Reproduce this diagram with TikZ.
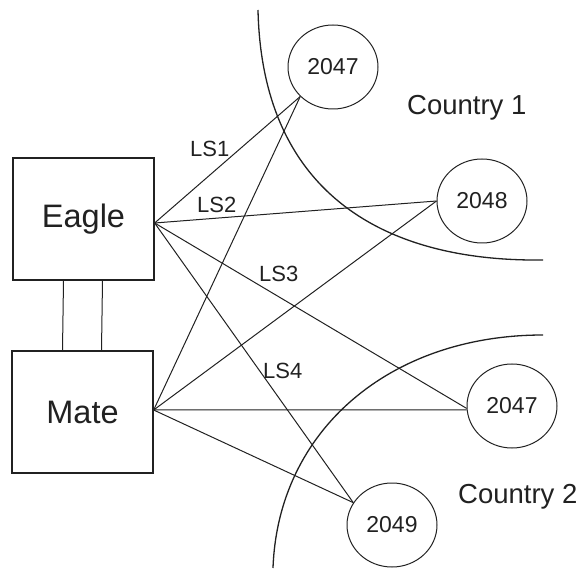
\documentclass[tikz,border=0pt]{standalone}
\usepackage{fontspec}
\setmainfont{Liberation Sans}
\usepackage{tikz}
\usetikzlibrary{shapes.geometric}
\definecolor{mygray}{gray}{0.13}
\tikzstyle{stpbox} = [draw, rectangle, minimum width=141pt, minimum height=122pt, inner sep=0pt, line width=1.3pt, font=\fontsize{32.5}{39}\selectfont]
\tikzstyle{pointcode} = [draw, ellipse, minimum width=90pt, minimum height=84pt, inner sep=0pt, line width=1pt, font=\fontsize{23}{28}\selectfont]
\tikzstyle{link} = [line width=1pt]
\tikzstyle{border} = [line width=1.3pt]
\tikzstyle{lslabel} = [anchor=base west, inner sep=0pt, font=\fontsize{22}{26}\selectfont]
\tikzstyle{countrylabel} = [anchor=base west, inner sep=0pt, font=\fontsize{27.5}{33}\selectfont]

\begin{document}
\begin{tikzpicture}[x=1pt, y=-1pt, color=mygray]
        \useasboundingbox (0,0) rectangle (584,569);
        % STP pair
        \draw (83.5,219) node[stpbox] (eagle) {Eagle};
        \draw (82.5,412) node[stpbox] (mate) {Mate};
        % point codes
        \draw (333,67) node[pointcode] (pc1) {2047};
        \draw (482,201) node[pointcode] (pc2) {2048};
        \draw (512,406) node[pointcode] (pc3) {2047};
        \draw (392,525) node[pointcode] (pc4) {2049};
        % country borders
        \draw[border] (258,10) .. controls (262,190) and (380,262) .. (543,260);
        \draw[border] (543,335) .. controls (390,335) and (278,430) .. (273,568);
        \draw (407,115) node[countrylabel] {Country 1};
        \draw (458,503) node[countrylabel] {Country 2};
        % C-links
        \draw[link] ([xshift=-20pt]eagle.south) -- ([xshift=-20pt]mate.north);
        \draw[link] ([xshift=19pt]eagle.south) -- ([xshift=19pt]mate.north);
        % linksets
        \draw[link] ([yshift=-4pt]eagle.east) -- (pc1.222);
        \draw[link] ([yshift=-4pt]eagle.east) -- (pc2.west);
        \draw[link] ([yshift=-4pt]eagle.east) -- (pc3.183);
        \draw[link] ([yshift=-4pt]eagle.east) -- (pc4.150);
        \draw[link] ([yshift=2pt]mate.east) -- (pc1.222);
        \draw[link] ([yshift=2pt]mate.east) -- (pc2.west);
        \draw[link] ([yshift=2pt]mate.east) -- (pc3.185);
        \draw[link] ([yshift=2pt]mate.east) -- (pc4.150);
        % labels
        \draw (190,157) node[lslabel] {LS1};
        \draw (197,213) node[lslabel] {LS2};
        \draw (259,282) node[lslabel] {LS3};
        \draw (263,378) node[lslabel] {LS4};
\end{tikzpicture}
\end{document}
